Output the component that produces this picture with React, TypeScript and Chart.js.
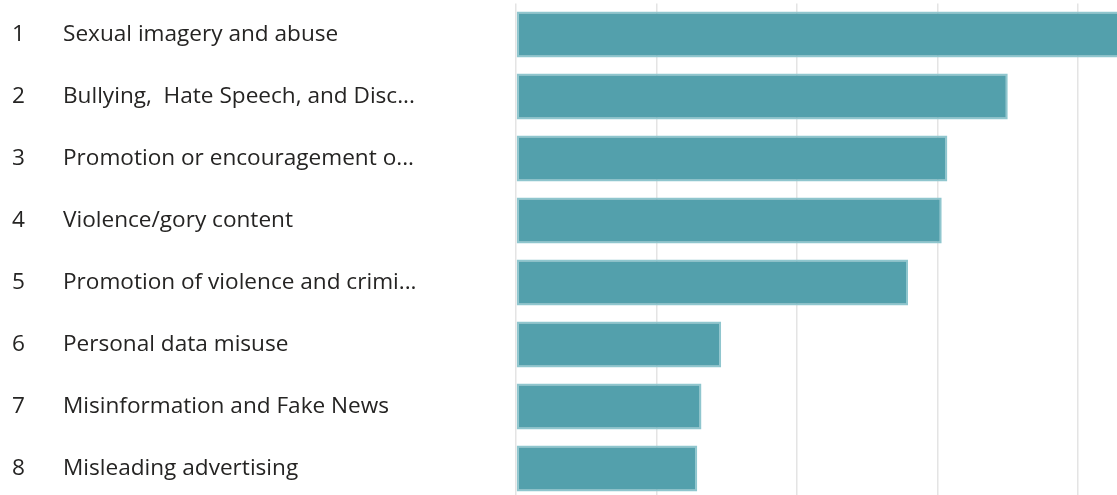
import React, { useEffect, useRef } from "react";
import { Chart, registerables } from "chart.js";

Chart.register(...registerables);

const ranks = ["1", "2", "3", "4", "5", "6", "7", "8"];
const categories = [
  "Sexual imagery and abuse",
  "Bullying,  Hate Speech, and Disc...",
  "Promotion or encouragement o...",
  "Violence/gory content",
  "Promotion of violence and crimi...",
  "Personal data misuse",
  "Misinformation and Fake News",
  "Misleading advertising",
];
const values = [43.5, 35.0, 30.7, 30.3, 27.9, 14.6, 13.2, 12.9];
const xMax = 43.7;
const xStep = 10;

const FONT = "'Open Sans', sans-serif";
const FONT_SIZE = 22.6;
const TEXT = "#252423";

const rankPlugin = {
  id: "rankPlugin",
  afterDraw(chart: any) {
    const ctx = chart.ctx;
    const y = chart.scales.y;
    ctx.save();
    ctx.font = `${FONT_SIZE}px ${FONT}`;
    ctx.fillStyle = TEXT;
    ctx.textAlign = "left";
    ctx.textBaseline = "middle";
    ranks.forEach((r, i) => {
      ctx.fillText(r, 12, y.getPixelForValue(i));
    });
    ctx.restore();
  },
};

export default function App() {
  const ref = useRef<HTMLCanvasElement | null>(null);
  useEffect(() => {
    if (!ref.current) return;
    const chart = new Chart(ref.current, {
      type: "bar",
      data: {
        labels: categories,
        datasets: [
          {
            data: values,
            backgroundColor: "#53A0AC",
            borderColor: "#8FC6CE",
            borderWidth: 2,
            borderSkipped: false,
            barPercentage: 0.74,
            categoryPercentage: 1,
          },
        ],
      },
      options: {
        indexAxis: "y",
        animation: false,
        responsive: true,
        maintainAspectRatio: false,
        layout: { padding: { top: 0, left: 63, right: 0, bottom: 0 } },
        plugins: {
          legend: { display: false },
          tooltip: { enabled: false },
        },
        scales: {
          x: {
            min: 0,
            max: xMax,
            ticks: { display: false, stepSize: xStep },
            border: { display: false },
            grid: { color: "#E4E4E4", lineWidth: 1.5, drawTicks: false },
          },
          y: {
            ticks: {
              crossAlign: "far",
              color: TEXT,
              font: { family: FONT, size: FONT_SIZE },
              padding: 0,
            },
            grid: { display: false },
            border: { display: false },
            afterFit(scale: any) {
              scale.width = 453;
            },
          },
        },
      },
      plugins: [rankPlugin],
    });
    return () => chart.destroy();
  }, []);
  return (
    <div style={{ position: "fixed", left: 0, top: -10, width: 1130, height: 523 }}>
      <canvas ref={ref} />
    </div>
  );
}
